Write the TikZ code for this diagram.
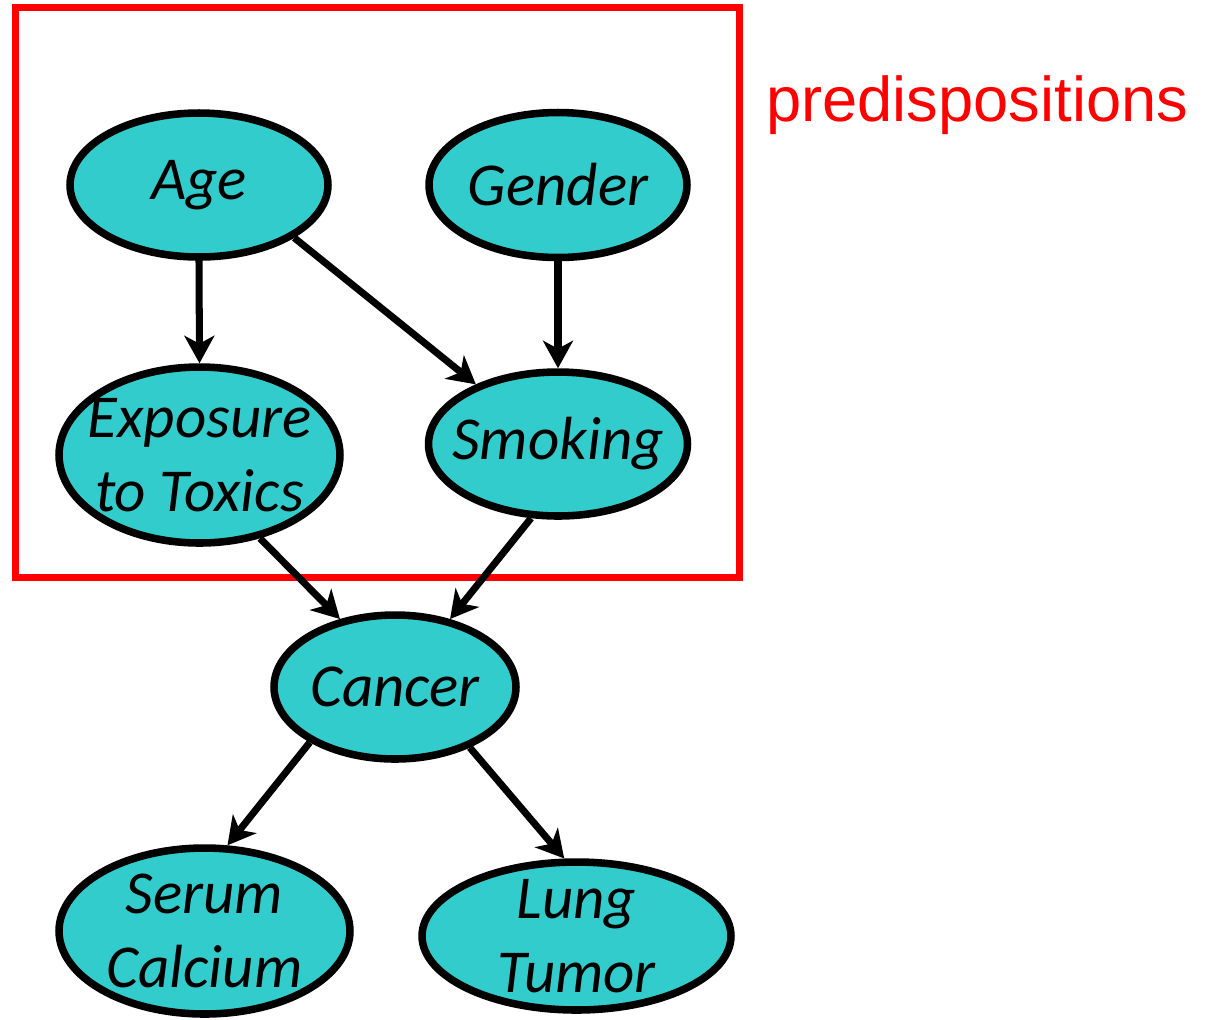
\documentclass[tikz,border=0pt]{standalone}
\usepackage{fontspec}
\usetikzlibrary{shapes.geometric,arrows.meta}
\newfontfamily\calfont{Carlito}
\newfontfamily\arialfont{Liberation Sans}
\definecolor{varfill}{HTML}{33CCCC}

\begin{document}
\begin{tikzpicture}[x=0.02cm,y=-0.02cm,
  var/.style={ellipse, draw=black, line width=4.3pt, fill=varfill, inner sep=0pt},
  lbl/.style={align=center, font=\calfont\itshape\fontsize{34.7}{42}\selectfont},
  edge/.style={line width=4pt, -{Stealth[length=0.55cm,width=0.6cm,inset=0.16cm]}}]

\useasboundingbox (0,0) rectangle (1209,1019);

% Predispositions box
\node[draw=red, line width=4pt, minimum width=14.48cm, minimum height=11.4cm, inner sep=0pt] (box) at (377.5,292.5) {};
\node[text=red, font=\arialfont\fontsize{36}{43}\selectfont, anchor=base west, inner sep=0pt] (pred) at (766,121) {predispositions};

% Variable nodes
\node[var, minimum width=5.16cm, minimum height=2.88cm] (age) at (199,185) {};
\node[var, minimum width=5.16cm, minimum height=2.9cm] (gender) at (558,185) {};
\node[var, minimum width=5.62cm, minimum height=3.52cm] (expo) at (199.5,455) {};
\node[var, minimum width=5.18cm, minimum height=2.88cm] (smoking) at (558,444) {};
\node[var, minimum width=4.84cm, minimum height=2.88cm] (cancer) at (395,687) {};
\node[var, minimum width=5.82cm, minimum height=3.32cm] (serum) at (204.5,931) {};
\node[var, minimum width=6.18cm, minimum height=2.96cm] (lung) at (576.5,936) {};

% Labels
\foreach \n/\t in {age/Age, gender/Gender, expo/{Exposure\\to Toxics}, smoking/Smoking, cancer/Cancer, serum/{Serum\\Calcium}, lung/{Lung\\Tumor}}
\node[lbl] (\n-txt) at (\n) {\t};

% Edges
\foreach \a/\b in {age.270/expo.90, age.331/smoking.144, gender.270/smoking.90, expo.306/cancer.129, smoking.250/cancer.51, cancer.213/serum.75, cancer.321/lung.99}
\draw[edge] (\a) -- (\b);

\end{tikzpicture}
\end{document}
